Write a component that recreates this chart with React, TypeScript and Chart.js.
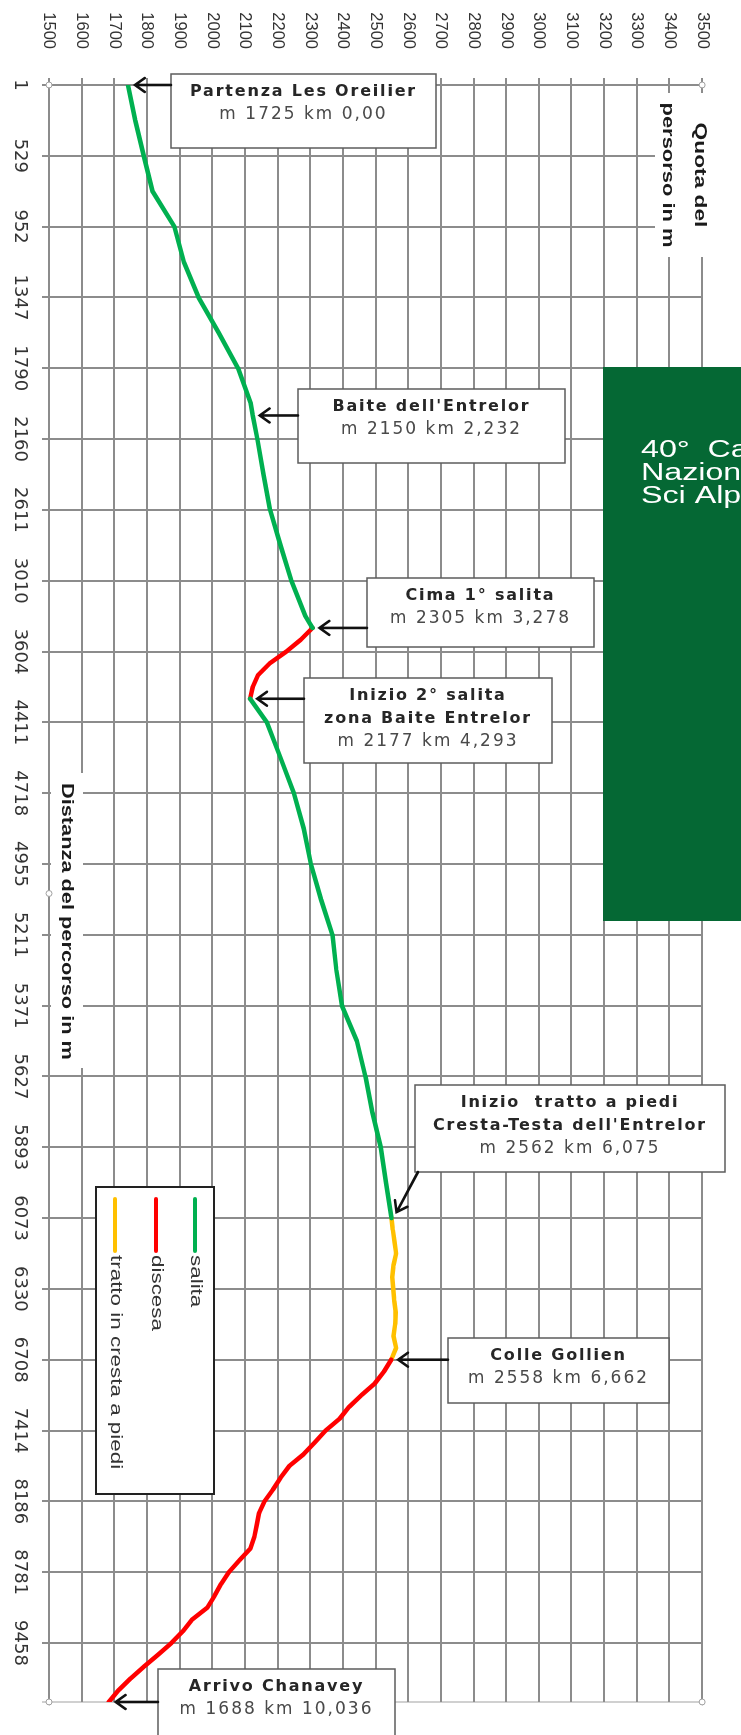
import React, { useEffect, useRef } from 'react';
import { Chart, registerables } from 'chart.js';

Chart.register(...registerables);

// ---------- data ----------
const DIST_TICKS = ['1', '529', '952', '1347', '1790', '2160', '2611', '3010', '3604', '4411', '4718', '4955', '5211', '5371', '5627', '5893', '6073', '6330', '6708', '7414', '8186', '8781', '9458'];
const SAMPLES_PER_TICK = 6;
const LAST_SAMPLE = 137;
const ALT_TICKS = [1500, 1600, 1700, 1800, 1900, 2000, 2100, 2200, 2300, 2400, 2500, 2600, 2700, 2800, 2900, 3000, 3100, 3200, 3300, 3400, 3500];

const SALITA_1_IDX = [0, 3, 6, 9, 12, 15, 18, 21, 24, 27, 28, 30, 33, 36, 39, 42, 45, 46];
const SALITA_1_ALT = [1742, 1764, 1790, 1817, 1884, 1913, 1958, 2020, 2079, 2118, 2124, 2138, 2157, 2177, 2209, 2242, 2285, 2307];

const DISCESA_1_IDX = [46, 47, 48, 49, 50, 51, 52];
const DISCESA_1_ALT = [2307, 2271, 2227, 2176, 2140, 2124, 2116];

const SALITA_2_IDX = [52, 54, 57, 60, 63, 66, 69, 72, 75, 78, 81, 84, 87, 90, 93, 96];
const SALITA_2_ALT = [2116, 2167, 2209, 2250, 2280, 2302, 2333, 2368, 2380, 2397, 2443, 2469, 2490, 2516, 2532, 2549];

const TRATTO_IDX = [96, 97, 98, 99, 100, 101, 102, 103, 104, 105, 106, 107, 108];
const TRATTO_ALT = [2549, 2553, 2558, 2563, 2555, 2551, 2554, 2557, 2562, 2560, 2555, 2563, 2548];

const DISCESA_2_IDX = [108, 109, 110, 111, 112, 113, 114, 115, 116, 117, 118, 119, 120, 121, 122, 123, 124, 125, 126, 127, 128, 129, 130, 131, 132, 133, 134, 135, 136, 137];
const DISCESA_2_ALT = [2548, 2526, 2498, 2457, 2419, 2390, 2347, 2314, 2280, 2236, 2209, 2186, 2160, 2143, 2136, 2129, 2117, 2083, 2051, 2027, 2007, 1985, 1939, 1910, 1875, 1834, 1791, 1750, 1713, 1683];

const SERIES_NAMES = ['salita', 'discesa', 'tratto in cresta a piedi'];
const SERIES_COLORS = ['#00B050', '#FF0000', '#FFC000'];

const NOTE_TEXT = [
  ['Partenza Les Oreilier', 'm 1725 km 0,00'],
  ["Baite dell'Entrelor", 'm 2150 km 2,232'],
  ['Cima 1° salita', 'm 2305 km 3,278'],
  ['Inizio 2° salita', 'zona Baite Entrelor', 'm 2177 km 4,293'],
  ['Inizio  tratto a piedi', "Cresta-Testa dell'Entrelor", 'm 2562 km 6,075'],
  ['Colle Gollien', 'm 2558 km 6,662'],
  ['Arrivo Chanavey', 'm 1688 km 10,036'],
];
const NOTE_SAMPLE = [0, 28, 46, 52, 96, 108, 137];

const X_TITLE = 'Distanza del percorso in m';
const Y_TITLE = ['Quota del', 'persorso in m'];
const PANEL_TEXT = ['40°  Campionato', 'Nazionale', 'Sci Alpinismo'];

// ---------- layout / style ----------
const W = 1735; // canvas width (becomes page height after rotation)
const H = 741;  // canvas height (becomes page width)
const GRID = '#8c8c8c';
const SANS = "'Liberation Sans', Arial, sans-serif";
const BOXFONT = "'DejaVu Sans', Verdana, sans-serif";

// boxes in page (final) coordinates
const NOTE_BOX = [
  { x: 171, y: 74, w: 265, h: 74, dir: 'left' },
  { x: 298, y: 389, w: 267, h: 74, dir: 'left' },
  { x: 367, y: 578, w: 227, h: 69, dir: 'left' },
  { x: 304, y: 678, w: 248, h: 85, dir: 'left' },
  { x: 415, y: 1085, w: 310, h: 87, dir: 'down' },
  { x: 448, y: 1338, w: 221, h: 65, dir: 'left' },
  { x: 158, y: 1669, w: 237, h: 95, dir: 'left' },
];

function pts(idx: number[], alt: number[]) {
  return idx.map((x, i) => ({ x, y: alt[i] }));
}

const ALL_SERIES: [number[], number[]][] = [
  [SALITA_1_IDX, SALITA_1_ALT], [DISCESA_1_IDX, DISCESA_1_ALT], [SALITA_2_IDX, SALITA_2_ALT],
  [TRATTO_IDX, TRATTO_ALT], [DISCESA_2_IDX, DISCESA_2_ALT],
];
function altAtSample(s: number) {
  for (const [ix, al] of ALL_SERIES) {
    const k = ix.indexOf(s);
    if (k >= 0) return al[k];
  }
  return ALT_TICKS[0];
}

function stretched(ctx: any, text: string, x: number, y: number, sx: number, align: string) {
  ctx.save();
  ctx.translate(x, y);
  ctx.scale(sx, 1);
  ctx.textAlign = align;
  ctx.textBaseline = 'middle';
  ctx.fillText(text, 0, 0);
  ctx.restore();
}

function arrow(ctx: any, sx: number, sy: number, tx: number, ty: number) {
  const ang = Math.atan2(sy - ty, sx - tx);
  const L = 12, A = 0.62;
  ctx.beginPath();
  ctx.moveTo(sx, sy);
  ctx.lineTo(tx, ty);
  ctx.moveTo(tx + L * Math.cos(ang + A), ty + L * Math.sin(ang + A));
  ctx.lineTo(tx, ty);
  ctx.lineTo(tx + L * Math.cos(ang - A), ty + L * Math.sin(ang - A));
  ctx.stroke();
}

const overlay = {
  id: 'overlay',
  afterDraw(chart: any) {
    const ctx = chart.ctx;
    const ca = chart.chartArea;
    const xs = chart.scales.x;
    const ys = chart.scales.y;
    const CH = chart.height;

    // ----- canvas frame (reads top-to-bottom on the page) -----
    ctx.save();
    // x title
    ctx.fillStyle = '#fff';
    ctx.fillRect(773, ca.bottom - 34, 295, 32);
    ctx.fillStyle = '#1a1a1a';
    ctx.font = `bold 16px ${SANS}`;
    stretched(ctx, X_TITLE, 783, ca.bottom - 17, 1.36, 'left');
    // y title
    ctx.fillStyle = '#fff';
    ctx.fillRect(93, 23, 164, 63);
    ctx.fillStyle = '#1a1a1a';
    stretched(ctx, Y_TITLE[0], 175, 42, 1.42, 'center');
    stretched(ctx, Y_TITLE[1], 175, 74, 1.37, 'center');

    // legend
    ctx.fillStyle = '#fff';
    ctx.fillRect(1187, 527, 307, 118);
    ctx.strokeStyle = '#222';
    ctx.lineWidth = 2;
    ctx.strokeRect(1187, 527, 307, 118);
    const legY = [546, 585, 626];
    SERIES_NAMES.forEach((name, i) => {
      ctx.strokeStyle = SERIES_COLORS[i];
      ctx.lineWidth = 4;
      ctx.lineCap = 'round';
      ctx.beginPath();
      ctx.moveTo(1199, legY[i]);
      ctx.lineTo(1251, legY[i]);
      ctx.stroke();
      ctx.fillStyle = '#333';
      ctx.font = `16px ${SANS}`;
      stretched(ctx, name, 1255, legY[i], 1.4, 'left');
    });

    // selection handles of the plot area
    const mx = (ca.left + ca.right) / 2, my = (ca.top + ca.bottom) / 2;
    const handles = [[ca.left, ca.top], [ca.left, my], [ca.left, ca.bottom], [mx, ca.bottom], [ca.right, ca.bottom], [ca.right, my], [ca.right, ca.top], [mx, ca.top]];
    ctx.lineWidth = 1;
    ctx.strokeStyle = '#a0a0a0';
    ctx.fillStyle = '#fff';
    handles.forEach(([hx, hy]) => {
      ctx.beginPath();
      ctx.arc(hx, hy, 3, 0, Math.PI * 2);
      ctx.fill();
      ctx.stroke();
    });
    ctx.restore();

    // ----- page frame (upright on the page) -----
    ctx.save();
    ctx.setTransform(0, -1, 1, 0, 0, CH);

    // green panel
    ctx.fillStyle = '#056834';
    ctx.fillRect(603, 367, 200, 554);
    ctx.fillStyle = '#ffffff';
    ctx.font = `23px ${SANS}`;
    const py = [451, 474, 497];
    PANEL_TEXT.forEach((t, i) => stretched(ctx, t, 641, py[i], 1.4, 'left'));

    // annotations
    NOTE_TEXT.forEach((lines, n) => {
      const b = NOTE_BOX[n];
      const s = NOTE_SAMPLE[n];
      const aX = CH - ys.getPixelForValue(altAtSample(s));
      const aY = xs.getPixelForValue(s);
      ctx.fillStyle = '#fff';
      ctx.fillRect(b.x, b.y, b.w, b.h);
      ctx.strokeStyle = '#5c5c5c';
      ctx.lineWidth = 1.5;
      ctx.strokeRect(b.x, b.y, b.w, b.h);
      const cx = b.x + b.w / 2;
      lines.forEach((t, k) => {
        const last = k === lines.length - 1;
        ctx.font = last ? `17px ${BOXFONT}` : `bold 16px ${BOXFONT}`;
        (ctx as any).letterSpacing = last ? '2px' : '1.8px';
        ctx.fillStyle = last ? '#4a4a4a' : '#262626';
        ctx.textAlign = 'center';
        ctx.textBaseline = 'middle';
        ctx.fillText(t, cx, b.y + 18 + k * 23);
      });
      (ctx as any).letterSpacing = '0px';
      ctx.strokeStyle = '#111';
      ctx.lineWidth = 2.6;
      ctx.lineCap = 'round';
      if (b.dir === 'left') arrow(ctx, b.x, aY, aX + 7, aY);
      else arrow(ctx, b.x + 3, b.y + b.h, aX + 5, aY - 6);
    });
    ctx.restore();
  },
};

export default function App() {
  const ref = useRef<HTMLCanvasElement>(null);
  useEffect(() => {
    const gap = (x: number) => ({ x, y: null as any });
    const base = {
      borderWidth: 4.5,
      pointRadius: 0,
      pointHoverRadius: 0,
      tension: 0,
      fill: false,
      borderJoinStyle: 'round' as const,
      borderCapStyle: 'round' as const,
      spanGaps: false,
    };
    const chart = new Chart(ref.current as HTMLCanvasElement, {
      type: 'line',
      data: {
        datasets: [
          { ...base, label: SERIES_NAMES[0], borderColor: SERIES_COLORS[0], backgroundColor: SERIES_COLORS[0], data: [...pts(SALITA_1_IDX, SALITA_1_ALT), gap(49), ...pts(SALITA_2_IDX, SALITA_2_ALT)] },
          { ...base, label: SERIES_NAMES[1], borderColor: SERIES_COLORS[1], backgroundColor: SERIES_COLORS[1], data: [...pts(DISCESA_1_IDX, DISCESA_1_ALT), gap(80), ...pts(DISCESA_2_IDX, DISCESA_2_ALT)] },
          { ...base, label: SERIES_NAMES[2], borderColor: SERIES_COLORS[2], backgroundColor: SERIES_COLORS[2], data: pts(TRATTO_IDX, TRATTO_ALT) },
        ],
      },
      options: {
        responsive: false,
        animation: false,
        devicePixelRatio: 1,
        events: [],
        layout: { padding: { top: 10, right: 33, left: 0, bottom: 0 } },
        plugins: { legend: { display: false }, tooltip: { enabled: false } },
        scales: {
          x: {
            type: 'linear',
            min: 0,
            max: LAST_SAMPLE,
            afterBuildTicks: (scale: any) => {
              scale.ticks = [...DIST_TICKS.map((_, i) => ({ value: i * SAMPLES_PER_TICK })), { value: LAST_SAMPLE }];
            },
            afterFit: (scale: any) => { scale.height = 49; },
            ticks: {
              autoSkip: false,
              maxRotation: 0,
              minRotation: 0,
              padding: 12,
              color: '#333',
              font: { family: "'DejaVu Sans', sans-serif", size: 18 },
              callback: (v: any) => {
                const i = Number(v) / SAMPLES_PER_TICK;
                return Number.isInteger(i) && i < DIST_TICKS.length ? DIST_TICKS[i] : '';
              },
            },
            grid: {
              color: (c: any) => (c.tick && c.tick.value === LAST_SAMPLE ? '#d0d0d0' : GRID),
              lineWidth: 2,
              tickLength: 7,
              drawTicks: true,
            },
            border: { display: true, color: GRID, width: 2 },
          },
          y: {
            type: 'linear',
            min: ALT_TICKS[0],
            max: ALT_TICKS[ALT_TICKS.length - 1],
            afterBuildTicks: (scale: any) => {
              scale.ticks = ALT_TICKS.map((value) => ({ value }));
            },
            afterFit: (scale: any) => { scale.width = 85; },
            ticks: {
              autoSkip: false,
              padding: 29,
              color: '#333',
              font: { family: SANS, size: 16.5 },
              callback: (v: any) => String(v),
            },
            grid: { color: GRID, lineWidth: 2, tickLength: 7, drawTicks: true },
            border: { display: true, color: GRID, width: 2 },
          },
        },
      },
      plugins: [overlay],
    } as any);
    return () => chart.destroy();
  }, []);

  return (
    <div style={{ position: 'absolute', left: 0, top: 0, width: 741, height: 1735, overflow: 'hidden', background: '#fff' }}>
      <canvas
        ref={ref}
        width={W}
        height={H}
        style={{ position: 'absolute', left: 0, top: 0, width: W, height: H, transformOrigin: '0 0', transform: `translate(${H}px, 0) rotate(90deg)` }}
      />
    </div>
  );
}
